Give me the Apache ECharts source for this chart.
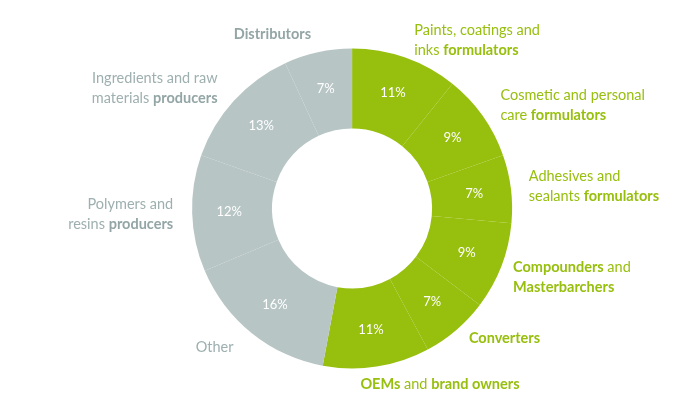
<!DOCTYPE html>
<html><head><meta charset="utf-8">
<script src="https://cdn.jsdelivr.net/npm/echarts@6/dist/echarts.min.js"></script>
<style>html,body{margin:0;padding:0;background:#fff}#c{width:700px;height:417px}</style>
</head><body><div id="c"></div>
<script>
const categories = ['Paints, coatings and inks formulators','Cosmetic and personal care formulators','Adhesives and sealants formulators','Compounders and Masterbarchers','Converters','OEMs and brand owners','Other','Polymers and resins producers','Ingredients and raw materials producers','Distributors'];
const values = [11, 9, 7, 9, 7, 11, 16, 12, 13, 7];
const groups = ['g','g','g','g','g','g','x','x','x','x'];
const labelText = [
  'Paints, coatings and\ninks {gb|formulators}',
  'Cosmetic and personal\ncare {gb|formulators}',
  'Adhesives and\nsealants {gb|formulators}',
  '{gb|Compounders} and\n{gb|Masterbarchers}',
  '{gb|Converters}',
  '{gb|OEMs} and {gb|brand owners}',
  'Other',
  'Polymers and\nresins {xb|producers}',
  'Ingredients and raw\nmaterials {xb|producers}',
  '{xb|Distributors}'
];
const labelShiftX = [0, 0, -3, -8, -2, -22, -4, 2, 0, 0];
const labelShiftY = [0, 0, 0, 5, -5, 0, 0, 0, 0, 0];
const GREEN = '#97bf0d', GREY = '#b8c5c5', GREYTXT = '#9eafaf', GREYBOLD = '#93a5a5';
const FONT = 'Lato';
const data = categories.map((c, i) => ({
  name: c, value: values[i],
  itemStyle: { color: groups[i] === 'g' ? GREEN : GREY },
  label: { color: groups[i] === 'g' ? GREEN : GREYTXT }
}));
const chart = echarts.init(document.getElementById('c'));
chart.setOption({
  animation: false,
  series: [
    {
      type: 'pie', radius: [80, 160], center: ['50.3%', '50%'], startAngle: 90, clockwise: true,
      avoidLabelOverlap: false, silent: true,
      itemStyle: { borderColor: '#fff', borderWidth: 1.5 },
      label: { position: 'inside', color: '#fff', fontFamily: FONT, fontSize: 13,
        formatter: p => values[p.dataIndex] + '%' },
      labelLine: { show: false },
      data: categories.map((c, i) => ({ name: c, value: values[i], itemStyle: { color: groups[i] === 'g' ? GREEN : GREY } }))
    },
    {
      type: 'pie', radius: [80, 160], center: ['50.3%', '50%'], startAngle: 90, clockwise: true,
      avoidLabelOverlap: false, silent: true,
      itemStyle: { color: 'rgba(0,0,0,0)' },
      label: { position: 'outside', fontFamily: FONT, fontSize: 14.5, lineHeight: 20, distanceToLabelLine: 3,
        formatter: p => labelText[p.dataIndex],
        rich: {
          gb: { fontFamily: FONT, fontSize: 14.5, fontWeight: 'bold', color: GREEN, lineHeight: 20 },
          xb: { fontFamily: FONT, fontSize: 14.5, fontWeight: 'bold', color: GREYBOLD, lineHeight: 20 }
        } },
      labelLine: { show: false, length: 18, length2: 0 },
      labelLayout: p => ({ dx: labelShiftX[p.dataIndex], dy: labelShiftY[p.dataIndex] }),
      data: data
    }
  ]
});
</script></body></html>
